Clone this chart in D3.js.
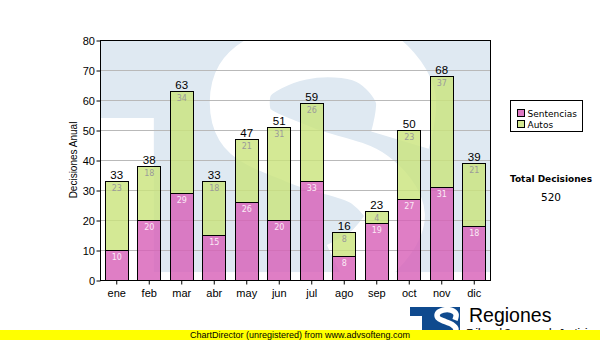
<!DOCTYPE html>
<html>
<head>
<meta charset="utf-8">
<script src="https://cdn.jsdelivr.net/npm/d3@7"></script>
<style>
  body { margin: 0; background: #fff; }
  svg { display: block; }
  text { font-family: "Liberation Sans", Arial, sans-serif; }
</style>
</head>
<body>
<svg id="chart" width="600" height="340"></svg>
<script>
// Monthly decisions, stacked by type
const months = ["ene", "feb", "mar", "abr", "may", "jun", "jul", "ago", "sep", "oct", "nov", "dic"];
const sentencias = [10, 20, 29, 15, 26, 20, 33, 8, 19, 27, 31, 18];
const autos = [23, 18, 34, 18, 21, 31, 26, 8, 4, 23, 37, 21];
const seriesNames = ["Sentencias", "Autos"];
const yTickValues = [0, 10, 20, 30, 40, 50, 60, 70, 80];
const axisTitle = "Decisiones Anual";
const totalTitle = "Total Decisiones";
const footerText = "ChartDirector (unregistered) from www.advsofteng.com";
const brandName = "Regiones";
const brandSub = "Tribunal Supremo de Justicia";

const fills = { Sentencias: "#d862b8", Autos: "#cbe47e" };
const innerLabelColor = { Sentencias: "#fbeaf6", Autos: "#9a9a9a" };

const svg = d3.select("#chart");
const plot = { left: 100, top: 40, right: 490, bottom: 280 };

const x = d3.scaleBand().domain(months)
  .range([plot.left, plot.right]).paddingInner(0.29).paddingOuter(0.145);
const y = d3.scaleLinear().domain([0, 80]).range([plot.bottom, plot.top]);

// ---- plot background with the faint emblem ----
svg.append("defs").append("clipPath").attr("id", "plotClip")
  .append("rect")
  .attr("x", plot.left).attr("y", plot.top)
  .attr("width", plot.right - plot.left).attr("height", plot.bottom - plot.top);

const bg = svg.append("g").attr("clip-path", "url(#plotClip)");
bg.append("rect")
  .attr("x", plot.left).attr("y", plot.top)
  .attr("width", plot.right - plot.left).attr("height", plot.bottom - plot.top)
  .attr("fill", "#dfe9f2");

// emblem geometry in plot-fraction units (0..100 both ways)
const u = d3.scaleLinear().domain([0, 100]).range([plot.left, plot.right]);
const v = d3.scaleLinear().domain([0, 100]).range([plot.top, plot.bottom]);
bg.append("rect")
  .attr("x", u(0)).attr("y", v(32.5))
  .attr("width", u(13.8) - u(0)).attr("height", v(100) - v(32.5))
  .attr("fill", "#fff");
bg.append("rect")
  .attr("x", u(0)).attr("y", v(96.7))
  .attr("width", u(100) - u(0)).attr("height", v(100) - v(96.7))
  .attr("fill", "#fff");
const emblemS = [[76.9, 41.7], [78.2, 22.9], [69.2, 6.25], [51.3, 4.2], [37.2, 16.7],
                 [37.2, 35.4], [51.3, 47.9], [69.2, 58.3], [75.6, 72.9], [70.5, 87.5], [61.5, 96.7]];
bg.append("path")
  .attr("d", d3.line().x(p => u(p[0])).y(p => v(p[1])).curve(d3.curveCatmullRom)(emblemS))
  .attr("fill", "none").attr("stroke", "#fff").attr("stroke-width", 60);

// ---- grid ----
svg.append("g").selectAll("line")
  .data(yTickValues.filter(t => t > 0))
  .join("line")
  .attr("x1", plot.left).attr("x2", plot.right)
  .attr("y1", d => y(d) + 0.5).attr("y2", d => y(d) + 0.5)
  .attr("stroke", "#b9b9b9").attr("stroke-width", 1);

// ---- stacked bars ----
const rows = months.map((m, i) => ({ month: m, Sentencias: sentencias[i], Autos: autos[i] }));
const stacked = d3.stack().keys(seriesNames)(rows);

const layers = svg.append("g").selectAll("g")
  .data(stacked).join("g");

layers.selectAll("rect")
  .data(d => d.map(s => ({ key: d.key, s })))
  .join("rect")
  .attr("x", d => Math.round(x(d.s.data.month)) + 0.5)
  .attr("y", d => Math.round(y(d.s[1])) + 0.5)
  .attr("width", Math.round(x.bandwidth()))
  .attr("height", d => Math.round(y(d.s[0])) - Math.round(y(d.s[1])))
  .attr("fill", d => fills[d.key]).attr("fill-opacity", 0.82)
  .attr("stroke", "#000").attr("stroke-width", 1);

// values inside each segment
layers.selectAll("text")
  .data(d => d.map(s => ({ key: d.key, s })))
  .join("text")
  .attr("x", d => x(d.s.data.month) + x.bandwidth() / 2 + 0.5)
  .attr("y", d => y(d.s[1]) + 10)
  .attr("text-anchor", "middle")
  .style("font-family", "'DejaVu Sans', Verdana, sans-serif")
  .style("font-size", "8px")
  .attr("fill", d => innerLabelColor[d.key])
  .text(d => d.s.data[d.key]);

// totals above bars
const totals = rows.map(r => r.Sentencias + r.Autos);
svg.append("g").selectAll("text")
  .data(rows)
  .join("text")
  .attr("x", d => x(d.month) + x.bandwidth() / 2 + 0.5)
  .attr("y", (d, i) => y(totals[i]) - 2.5)
  .attr("text-anchor", "middle")
  .style("font-size", "11.5px")
  .attr("fill", "#000")
  .text((d, i) => totals[i]);

// ---- frame and axes ----
svg.append("rect")
  .attr("x", plot.left + 0.5).attr("y", plot.top + 0.5)
  .attr("width", plot.right - plot.left).attr("height", plot.bottom - plot.top)
  .attr("fill", "none").attr("stroke", "#000").attr("stroke-width", 1);

const yAxis = svg.append("g")
  .attr("transform", `translate(${plot.left + 0.5},0.5)`)
  .call(d3.axisLeft(y).tickValues(yTickValues).tickSize(4).tickPadding(1.5));
yAxis.select(".domain").remove();
yAxis.selectAll("text").style("font-size", "11px").style("font-family", "'Liberation Sans', Arial, sans-serif").attr("fill", "#000");
yAxis.selectAll("line").attr("stroke", "#000");

const xAxis = svg.append("g")
  .attr("transform", `translate(0.5,${plot.bottom + 0.5})`)
  .call(d3.axisBottom(x).tickSize(4).tickPadding(4.2));
xAxis.select(".domain").remove();
xAxis.selectAll("text").style("font-size", "11px").style("font-family", "'Liberation Sans', Arial, sans-serif").attr("fill", "#000");
xAxis.selectAll("line").attr("stroke", "#000");

svg.append("text")
  .attr("transform", `translate(76.5,${(plot.top + plot.bottom) / 2}) rotate(-90)`)
  .attr("text-anchor", "middle")
  .style("font-size", "10px")
  .attr("fill", "#000")
  .text(axisTitle);

// ---- legend ----
const legend = svg.append("g").attr("transform", "translate(510.5,100.5)");
legend.append("rect").attr("width", 72).attr("height", 31)
  .attr("fill", "#fff").attr("stroke", "#000");
const li = legend.selectAll("g.item").data(seriesNames).join("g")
  .attr("class", "item")
  .attr("transform", (d, i) => `translate(7,${9 + i * 11})`);
li.append("rect").attr("width", 7).attr("height", 7)
  .attr("fill", d => fills[d]).attr("fill-opacity", 0.85).attr("stroke", "#000");
li.append("text").attr("x", 10).attr("y", 7)
  .style("font-family", "'DejaVu Sans', Verdana, sans-serif")
  .style("font-size", "9px").attr("fill", "#000")
  .text(d => d);

// ---- overall total ----
svg.append("text").attr("x", 551).attr("y", 181.5)
  .attr("text-anchor", "middle")
  .style("font-family", "'DejaVu Sans', Verdana, sans-serif")
  .style("font-size", "9px").style("font-weight", "bold").attr("fill", "#000")
  .attr("textLength", 82).attr("lengthAdjust", "spacingAndGlyphs")
  .text(totalTitle);
svg.append("text").attr("x", 551).attr("y", 201)
  .attr("text-anchor", "middle")
  .style("font-family", "'DejaVu Sans', Verdana, sans-serif")
  .style("font-size", "10.5px").attr("fill", "#000")
  .text(d3.sum(totals));

// ---- brand block ----
const logo = svg.append("g").attr("transform", "translate(410,307)");
logo.append("rect").attr("width", 50).attr("height", 33).attr("fill", "#0f4a8e");
logo.append("rect").attr("x", 0).attr("y", 9).attr("width", 12).attr("height", 24).attr("fill", "#fff");
const logoS = [[45, 13], [46, 7], [41, 3.2], [33, 3.2], [27.5, 6.5], [28, 11], [35, 14.5], [42, 17.5], [46, 22], [43, 27]];
logo.append("path")
  .attr("d", d3.line().curve(d3.curveCatmullRom)(logoS))
  .attr("fill", "none").attr("stroke", "#fff").attr("stroke-width", 5.5);

svg.append("text").attr("x", 469).attr("y", 322)
  .style("font-size", "19.5px").attr("fill", "#000")
  .text(brandName);
svg.append("text").attr("x", 467).attr("y", 335)
  .style("font-size", "9px").style("font-weight", "bold").attr("fill", "#222")
  .text(brandSub);

// ---- footer banner ----
svg.append("rect").attr("x", 0).attr("y", 330).attr("width", 600).attr("height", 10).attr("fill", "#ffff00");
svg.append("text").attr("x", 190).attr("y", 338.3)
  .style("font-size", "9px").attr("fill", "#000")
  .text(footerText);
</script>
</body>
</html>
